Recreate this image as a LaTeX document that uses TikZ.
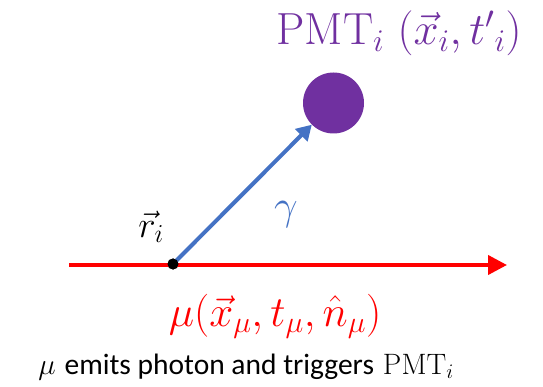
\RequirePackage{fix-cm}
\documentclass[tikz,border=0pt]{standalone}
\usepackage{fontspec}
\newfontfamily\capfont{Carlito}
\usetikzlibrary{arrows.meta}
\definecolor{pmtpurple}{HTML}{7030A0}
\definecolor{phblue}{HTML}{4472C4}
\definecolor{mured}{HTML}{FF0000}
\tikzset{
  muline/.style={draw=mured, line width=4pt, -{Triangle[length=19pt,width=19pt]}},
  phline/.style={draw=phblue, line width=4pt, -{Triangle[length=15pt,width=17pt]}},
  lbl/.style={inner sep=0pt, anchor=base},
}
\begin{document}
\begin{tikzpicture}[x=1pt,y=-1pt]
\useasboundingbox (0,0) rectangle (543,387);
\coordinate (start) at (69,265);
\coordinate (end) at (507,265);
\node[circle, fill=black, minimum size=11pt, inner sep=0pt] (ri) at (173,264) {};
\node[circle, fill=pmtpurple, minimum size=61pt, inner sep=0pt] (pmt) at (333.5,103) {};
\draw[muline] (start) -- (end);
\draw[phline] (ri.center) -- (pmt.225);
\node[circle, fill=black, minimum size=11pt, inner sep=0pt] at (ri) {};
\node[lbl, text=pmtpurple, font=\fontsize{45}{50}\selectfont] (pmtlbl) at (399,45) {$\mathrm{PMT}_i\ (\vec{x}_i, {t'}_i)$};
\node[lbl, font=\fontsize{37}{42}\selectfont] (rlbl) at (151,237) {$\vec{r}_i$};
\node[lbl, text=phblue, font=\fontsize{42}{48}\selectfont] (glbl) at (286,220) {$\gamma$};
\node[lbl, text=mured, font=\fontsize{43}{48}\selectfont] (mulbl) at (275,326) {$\mu(\vec{x}_\mu, t_\mu, \hat{n}_\mu)$};
\node[lbl, font=\fontsize{29.5}{34}\selectfont] (cap) at (246,374) {$\mu$ {\capfont emits photon and triggers} $\mathrm{PMT}_i$};
\end{tikzpicture}
\end{document}
